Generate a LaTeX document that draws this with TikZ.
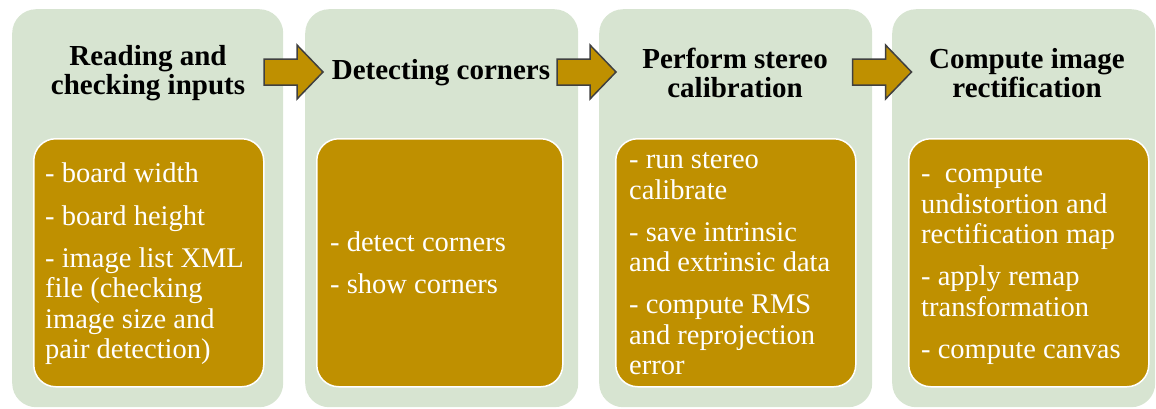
\documentclass[tikz,border=0pt]{standalone}
\usepackage{fontspec}
\setmainfont{Liberation Serif}
\definecolor{bgGreen}{RGB}{215,228,209}
\definecolor{gold}{RGB}{191,144,0}
\definecolor{arrowEdge}{RGB}{64,64,64}
\begin{document}
\begin{tikzpicture}[x=1pt,y=-1pt,
  colbox/.style={fill=bgGreen, rounded corners=24pt, inner sep=0pt, anchor=north west},
  innerbox/.style={fill=gold, draw=white, line width=1.5pt, rounded corners=22pt, inner sep=0pt, anchor=north west},
  title/.style={font=\fontsize{29}{29.5}\selectfont\bfseries, align=center, inner sep=0pt},
  body/.style={font=\fontsize{28.5}{30.3}\selectfont, text=white, align=left, inner sep=0pt, anchor=west},
  blockarrow/.style={fill=gold, draw=arrowEdge, line width=1.5pt, line join=miter}
]
\useasboundingbox (0,0) rectangle (1156,408);

% columns
\node[colbox, minimum width=271pt, minimum height=398pt] (c1) at (12,9) {};
\node[colbox, minimum width=273pt, minimum height=398pt] (c2) at (305,9) {};
\node[colbox, minimum width=273pt, minimum height=398pt] (c3) at (599,9) {};
\node[colbox, minimum width=263pt, minimum height=398pt] (c4) at (892,9) {};

% titles
\node[title] (t1) at (148,73) {Reading and\\checking inputs};
\node[title] (t2) at (441,73) {Detecting corners};
\node[title] (t3) at (735,73) {Perform stereo\\calibration};
\node[title] (t4) at (1027,73) {Compute image\\rectification};

% inner boxes
\node[innerbox, minimum width=230pt, minimum height=248pt] (i1) at (33,138) {};
\node[innerbox, minimum width=246pt, minimum height=248pt] (i2) at (316,138) {};
\node[innerbox, minimum width=240pt, minimum height=248pt] (i3) at (615,138) {};
\node[innerbox, minimum width=240pt, minimum height=248pt] (i4) at (908,138) {};

% body texts
\node[body, xshift=12pt, yshift=-1pt] (b1) at (i1.west) {- board width\\[12pt]- board height\\[12pt]- image list XML\\file (checking\\image size and\\pair detection)};
\node[body, xshift=14pt] (b2) at (i2.west) {- detect corners\\[12pt]- show corners};
\node[body, xshift=14pt, yshift=-1pt] (b3) at (i3.west) {- run stereo\\calibrate\\[12pt]- save intrinsic\\and extrinsic data\\[12pt]- compute RMS\\and reprojection\\error};
\node[body, xshift=13pt, yshift=-3pt] (b4) at (i4.west) {-\ \ compute\\undistortion and\\rectification map\\[12pt]- apply remap\\transformation\\[12pt]- compute canvas};

% block arrows
\coordinate (a1) at (293.5,72);
\coordinate (a2) at (586.5,72);
\coordinate (a3) at (882,72);
\foreach \a in {a1,a2,a3}{
  \draw[blockarrow, shift={(\a)}] (-29.5,-13) -- (3.5,-13) -- (3.5,-27) -- (29.5,0) -- (3.5,27) -- (3.5,13) -- (-29.5,13) -- cycle;
}
\end{tikzpicture}
\end{document}
